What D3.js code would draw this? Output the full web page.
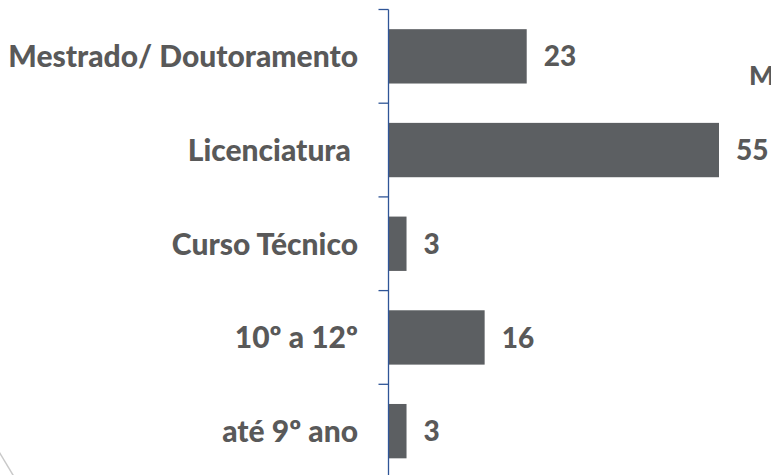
<!DOCTYPE html>
<html>
<head>
<meta charset="utf-8">
<script src="https://cdn.jsdelivr.net/npm/d3@7"></script>
<style>
  body { margin: 0; background: #fff; }
  svg { display: block; }
  text { font-family: Lato, "Open Sans", sans-serif; font-weight: 900; fill: #595959; }
</style>
</head>
<body>
<div id="chart"></div>
<script>
// categories top to bottom and their values
var categories = ["Mestrado/ Doutoramento", "Licenciatura ", "Curso Técnico", "10º a 12º", "até 9º ano"];
var values = [23, 55, 3, 16, 3];

var width = 771, height = 475;
var axisX = 388.5;

var svg = d3.select("#chart").append("svg")
    .attr("width", width)
    .attr("height", height);

// scales
var x = d3.scaleLinear()
    .domain([0, 55])
    .range([axisX, 719]);

var y = d3.scaleBand()
    .domain(categories)
    .range([9.5, 478])
    .paddingInner(0.42)
    .paddingOuter(0.21);

// decorative slide line bottom-left
svg.append("line")
    .attr("x1", -2).attr("y1", 450)
    .attr("x2", 16).attr("y2", 480)
    .attr("stroke", "#c9c9c9")
    .attr("stroke-width", 1.5);

// bars
svg.selectAll("rect.bar")
    .data(values)
    .enter().append("rect")
    .attr("class", "bar")
    .attr("x", x(0))
    .attr("y", function(d, i) { return y(categories[i]); })
    .attr("width", function(d) { return x(d) - x(0); })
    .attr("height", y.bandwidth())
    .attr("fill", "#5c5f62");

// axis line with ticks on band boundaries
var step = y.step();
var bounds = d3.range(categories.length + 1).map(function(i) { return 9.5 + i * step; });

var axis = svg.append("g");
axis.append("line")
    .attr("x1", axisX).attr("x2", axisX)
    .attr("y1", 9.5).attr("y2", height)
    .attr("stroke", "#2f5597")
    .attr("stroke-width", 1.3);
axis.selectAll("line.tick")
    .data(bounds)
    .enter().append("line")
    .attr("class", "tick")
    .attr("x1", axisX - 10).attr("x2", axisX)
    .attr("y1", function(d) { return d; })
    .attr("y2", function(d) { return d; })
    .attr("stroke", "#2f5597")
    .attr("stroke-width", 1.3);

// category labels
svg.selectAll("text.cat")
    .data(categories)
    .enter().append("text")
    .attr("class", "cat")
    .attr("x", 358)
    .attr("y", function(d) { return y(d) + y.bandwidth() / 2; })
    .attr("dy", "0.36em")
    .attr("text-anchor", "end")
    .style("white-space", "pre")
    .style("font-size", "30px")
    .text(function(d) { return d; });

// value labels
svg.selectAll("text.val")
    .data(values)
    .enter().append("text")
    .attr("class", "val")
    .attr("x", function(d) { return x(d) + 17; })
    .attr("y", function(d, i) { return y(categories[i]) + y.bandwidth() / 2; })
    .attr("dy", "0.36em")
    .style("font-size", "28px")
    .text(function(d) { return d; });

// title letter at the right edge (rest lies outside the frame)
svg.append("text")
    .attr("x", 749)
    .attr("y", 85)
    .style("font-size", "27px")
    .text("M");
</script>
</body>
</html>
